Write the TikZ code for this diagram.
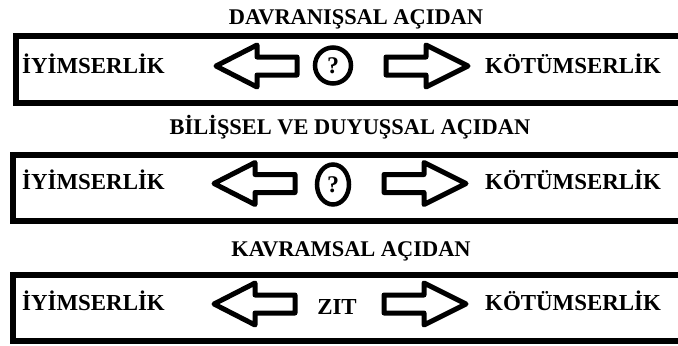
\documentclass[tikz,border=0pt]{standalone}
\usepackage{fontspec}
\setmainfont{Liberation Serif}
\usepackage{tikz}
\usetikzlibrary{shapes.geometric}

\tikzset{
  frame/.style={line width=6bp},
  blockarrow/.style={line width=5bp, line join=round},
  heading/.style={font=\fontsize{22.5}{22.5}\selectfont\bfseries, anchor=base, inner sep=0pt},
  sidelabel/.style={font=\fontsize{23}{23}\selectfont\bfseries, anchor=base west, inner sep=0pt},
  askmark/.style={draw, line width=4.5bp, inner sep=0pt, font=\fontsize{24}{24}\selectfont\bfseries}
}

\begin{document}
\begin{tikzpicture}[x=1bp, y=-1bp]
        \useasboundingbox (0,0) rectangle (678,345);

        % Headings
        \node[heading] (head1) at (356,24) {DAVRANIŞSAL AÇIDAN};
        \node[heading] (head2) at (350,134) {BİLİŞSEL VE DUYUŞSAL AÇIDAN};
        \node[heading] (head3) at (351,256) {KAVRAMSAL AÇIDAN};

        % Frames
        \draw[frame] (16,35.5) rectangle (700,103);
        \draw[frame] (12.5,154.5) rectangle (700,220.5);
        \draw[frame] (12.5,274.5) rectangle (700,341);

        % Side labels
        \foreach \row/\base in {1/73, 2/189, 3/310} {
            \node[sidelabel] (iyi\row) at (22,\base) {İYİMSERLİK};
            \node[sidelabel] (kot\row) at (485,\base) {KÖTÜMSERLİK};
        }

        % Block arrows
        \foreach \c/\dx in {66/0, 183.5/-2, 304/-2} {
            \begin{scope}[shift={(\dx,0)}]
                \draw[blockarrow] (216,\c) -- (257,\c-21) -- (257,\c-9) -- (297,\c-9)
                    -- (297,\c+9) -- (257,\c+9) -- (257,\c+21) -- cycle;
                \draw[blockarrow] (386,\c-9) -- (426,\c-9) -- (426,\c-21) -- (468,\c)
                    -- (426,\c+21) -- (426,\c+9) -- (386,\c+9) -- cycle;
            \end{scope}
        }

        % Middle marks
        \node[askmark, circle, minimum size=36bp] (ask1) at (333,65.5) {?};
        \node[askmark, ellipse, minimum width=32bp, minimum height=40bp] (ask2) at (333,184.5) {?};
        \node[heading, font=\fontsize{23}{23}\selectfont\bfseries] (zit) at (337,314) {ZIT};
\end{tikzpicture}
\end{document}
